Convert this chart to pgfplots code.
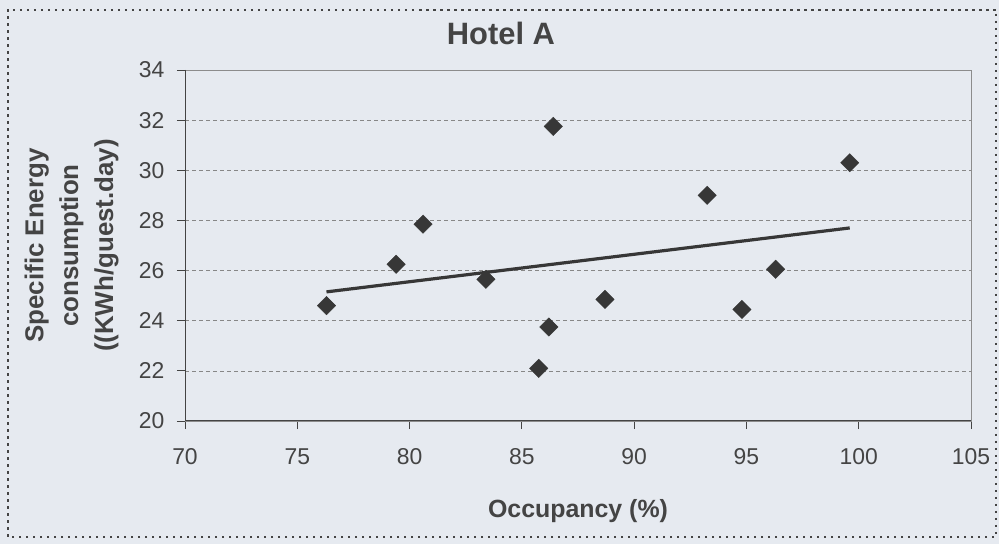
\documentclass[border=0pt]{standalone}
\usepackage{pgfplots}
\pgfplotsset{compat=1.18}
\usepackage{fontspec}
\setmainfont{Liberation Sans}
\definecolor{bg}{RGB}{230,234,240}
\definecolor{ink}{RGB}{68,68,68}
\definecolor{markc}{RGB}{55,55,55}
\definecolor{frame}{RGB}{140,140,140}
\definecolor{gridc}{RGB}{135,135,135}
\begin{document}
\begin{tikzpicture}
% chart background and dotted chart-area border
\fill[bg] (0bp,0bp) rectangle (999bp,544bp);
\draw[ink, line width=1.4bp, dash pattern=on 2.5bp off 4.5bp] (8bp,7bp) rectangle (996bp,534bp);
\begin{axis}[
  at={(185bp,123bp)}, anchor=south west,
  width=786bp, height=351bp, scale only axis,
  xmin=70, xmax=105, ymin=20, ymax=34,
  xtick={70,75,...,105}, ytick={20,22,...,34},
  tick pos=left, tick align=outside,
  major tick length=8bp,
  tick style={ink, line width=0.8bp},
  axis line style={frame, line width=0.9bp},
  ymajorgrids,
  major grid style={gridc, line width=0.6bp, dash pattern=on 4bp off 3bp},
  /pgf/number format/assume math mode=true,
  ticklabel style={font=\fontsize{23}{23}\selectfont, text=ink},
  xticklabel style={yshift=-16bp},
  yticklabel style={xshift=-9bp},
  title={Hotel A},
  title style={font=\bfseries\fontsize{31}{31}\selectfont, text=ink,
    at={(axis description cs:0.402,1.057)}, anchor=base},
  xlabel={Occupancy (\%)},
  xlabel style={font=\bfseries\fontsize{25}{25}\selectfont, text=ink,
    at={(axis description cs:0.5,-0.276)}, anchor=base},
  ylabel={Specific Energy\\consumption\\((KWh/guest.day)},
  ylabel style={font=\bfseries\fontsize{26}{35}\selectfont, text=ink,
    align=center, at={(axis description cs:-0.1444,0.5)}, anchor=center},
]
% darker left and bottom axis lines
\draw[ink, line width=1.3bp] (rel axis cs:0,1) -- (rel axis cs:0,0) -- (rel axis cs:1,0);
\addplot[only marks, mark=square*, mark size=6.5bp,
  mark options={rotate=45, fill=markc, draw=markc}] coordinates {
  (76.3,24.6) (79.4,26.25) (80.6,27.85) (83.4,25.65)
  (85.75,22.1) (86.2,23.75) (86.4,31.75) (88.7,24.85)
  (93.25,29.0) (94.8,24.45) (96.3,26.05) (99.6,30.3)
};
% linear trend line
\addplot[no marks, markc, line width=3.2bp] coordinates {(76.3,25.15) (99.6,27.7)};
\end{axis}
\end{tikzpicture}
\end{document}
